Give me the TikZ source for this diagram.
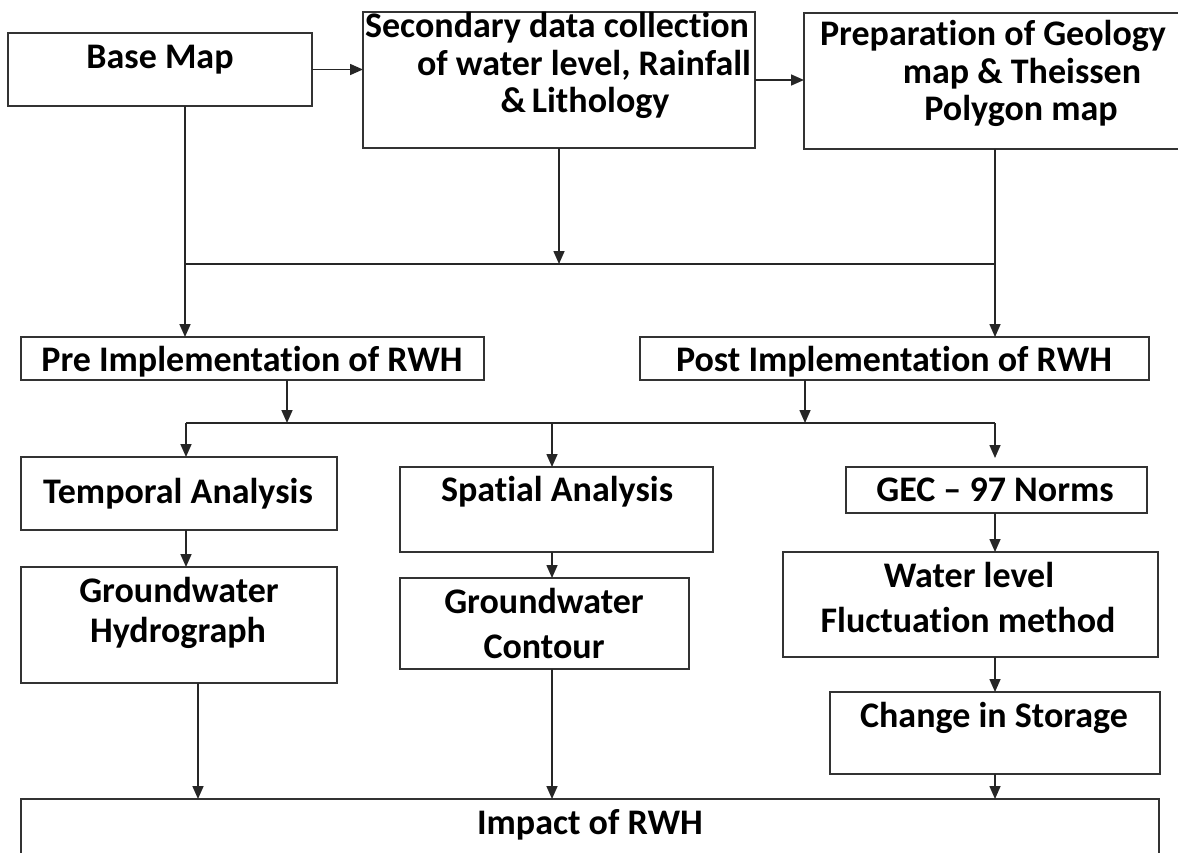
\documentclass[tikz,border=0pt]{standalone}
\usepackage{fontspec}
\setmainfont{Carlito}[RawFeature={-liga}]
\usetikzlibrary{arrows.meta}
\tikzset{
  box/.style={draw=black!80, line width=1.8pt, fill=white, inner sep=0pt, outer sep=0pt},
  txt/.style={anchor=base, inner sep=0pt, font=\fontsize{36}{40}\selectfont\bfseries, text=black},
  conn/.style={draw=black!85, line width=1.6pt},
  arr/.style={conn, -{Triangle[length=13pt,width=11pt]}}
}
\begin{document}
\begin{tikzpicture}[x=1pt,y=-1pt]
\useasboundingbox (0,0) rectangle (1178,852);
\clip (0,0) rectangle (1178,852);
% boxes
\node[box, minimum width=304pt, minimum height=73pt] (bm) at (160,69.5) {};
\node[box, minimum width=392pt, minimum height=136pt] (sec) at (559,80) {};
\node[box, minimum width=391pt, minimum height=136pt] (prep) at (999.5,81) {};
\node[box, minimum width=463pt, minimum height=43pt] (pre) at (252.5,358.5) {};
\node[box, minimum width=509pt, minimum height=43pt] (post) at (894.5,358.5) {};
\node[box, minimum width=316pt, minimum height=73pt] (temp) at (179,493.5) {};
\node[box, minimum width=313pt, minimum height=85pt] (spat) at (556.5,509.5) {};
\node[box, minimum width=301pt, minimum height=46pt] (gec) at (996.5,490) {};
\node[box, minimum width=316pt, minimum height=116pt] (hydro) at (179,625) {};
\node[box, minimum width=289pt, minimum height=91pt] (cont) at (544.5,623.5) {};
\node[box, minimum width=375pt, minimum height=105pt] (wat) at (970.5,604.5) {};
\node[box, minimum width=330pt, minimum height=82pt] (chg) at (995,733) {};
\node[box, minimum width=1138pt, minimum height=71pt] (imp) at (590,834.5) {};
% texts
\node[txt] (tbm) at (160,68) {Base Map};
\node[txt] (tsec1) at (557,37) {Secondary data collection};
\node[txt] (tsec2) at (584,75) {of water level, Rainfall};
\node[txt] (tsec3) at (585,112) {\&\,Lithology};
\node[txt] (tprep1) at (993,45) {Preparation of Geology};
\node[txt] (tprep2) at (1022,83) {map \& Theissen};
\node[txt] (tprep3) at (1021,120) {Polygon map};
\node[txt] (tpre) at (252,371) {Pre Implementation of RWH};
\node[txt] (tpost) at (894,371) {Post Implementation of RWH};
\node[txt] (ttemp) at (178,503) {Temporal Analysis};
\node[txt] (tspat) at (557,501) {Spatial Analysis};
\node[txt] (tgec) at (995,501) {GEC -- 97 Norms};
\node[txt] (thyd1) at (179,602) {Groundwater};
\node[txt] (thyd2) at (178,642) {Hydrograph};
\node[txt] (tcon1) at (544,613) {Groundwater};
\node[txt] (tcon2) at (544,658) {Contour};
\node[txt] (twat1) at (969,587) {Water level};
\node[txt] (twat2) at (968,632) {Fluctuation method};
\node[txt] (tchg) at (994,727) {Change in Storage};
\node[txt] (timp) at (590,834) {Impact of RWH};
% junctions
\coordinate (hA) at (185,264);
\coordinate (hS) at (559,264);
\coordinate (hB) at (995,264);
\coordinate (hC) at (186,423);
\coordinate (hSp) at (552,423);
\coordinate (hD) at (995,423);
\coordinate (hPre) at (287,423);
\coordinate (hPost) at (805,423);
\coordinate (gecIn) at (995,458);
\coordinate (xH) at (198,0);
% connectors
\draw[arr] (bm.east) -- (sec.west |- bm.east);
\draw[arr] (sec.east) -- (prep.west |- sec.east);
\draw[conn] (bm.south -| hA) -- (hA);
\draw[conn] (hA) -- (hB);
\draw[arr] (hA) -- (pre.north -| hA);
\draw[arr] (sec.south) -- (hS);
\draw[conn] (prep.south -| hB) -- (hB);
\draw[arr] (hB) -- (post.north -| hB);
\draw[arr] (pre.south -| hPre) -- (hPre);
\draw[arr] (post.south -| hPost) -- (hPost);
\draw[conn] (hC) -- (hD);
\draw[arr] (hC) -- (temp.north -| hC);
\draw[arr] (hSp) -- (spat.north -| hSp);
\draw[arr] (hD) -- (gecIn);
\draw[arr] (temp.south -| hC) -- (hydro.north -| hC);
\draw[arr] (spat.south -| hSp) -- (cont.north -| hSp);
\draw[arr] (gec.south -| hD) -- (wat.north -| hD);
\draw[arr] (wat.south -| hD) -- (chg.north -| hD);
\draw[arr] (hydro.south -| xH) -- (imp.north -| xH);
\draw[arr] (cont.south -| hSp) -- (imp.north -| hSp);
\draw[arr] (chg.south -| hD) -- (imp.north -| hD);
\end{tikzpicture}
\end{document}
